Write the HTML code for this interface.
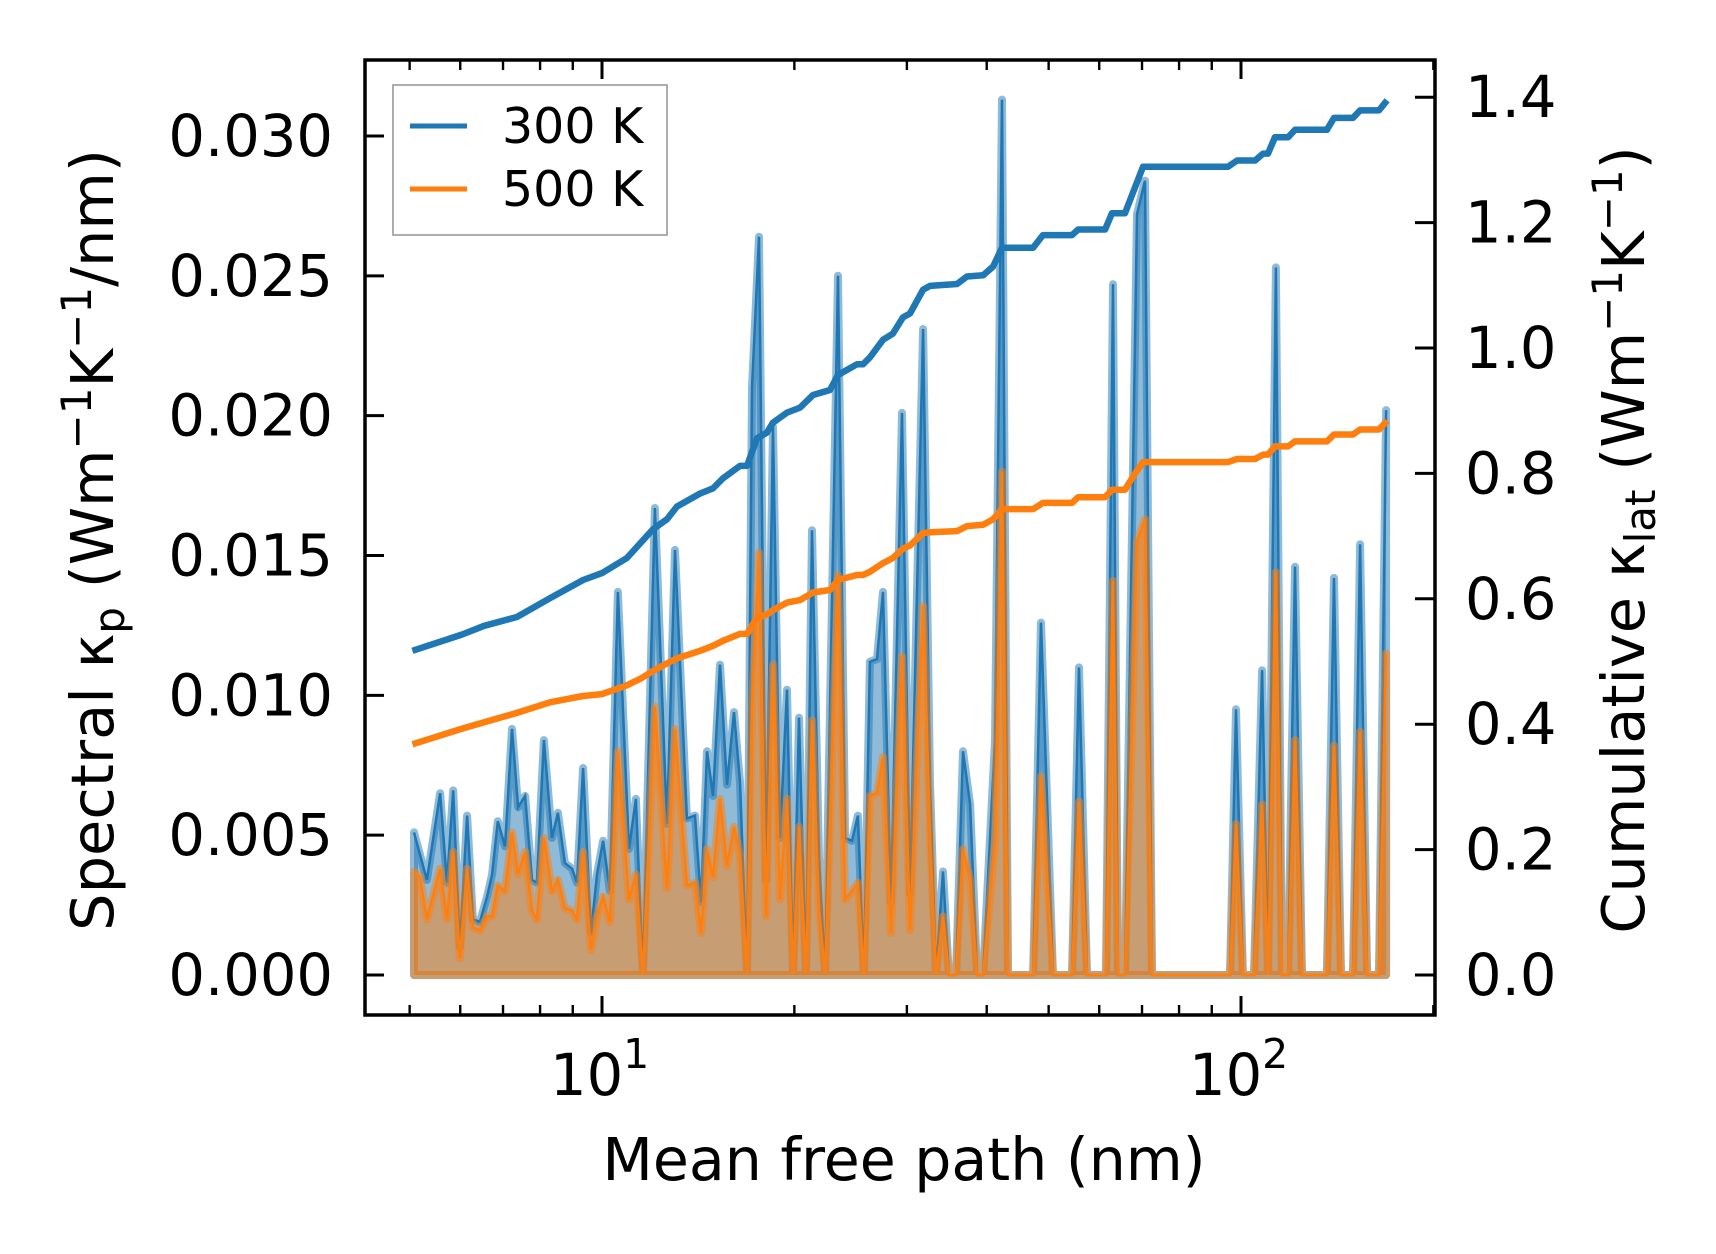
<!DOCTYPE html>
<html><head><meta charset="utf-8"><style>
html,body{margin:0;padding:0;background:#fff;}
svg{display:block;font-family:"DejaVu Sans","Liberation Sans",sans-serif;}
</style></head><body>
<svg id="chart" width="1716" height="1254" viewBox="0 0 1716 1254" xmlns="http://www.w3.org/2000/svg">
<rect width="1716" height="1254" fill="#fff"/>
<g id="plot"></g>
<g id="axes"></g>
<g id="legend">
  <rect x="393" y="85" width="274" height="150" fill="#fff" fill-opacity="0.8" stroke="#999" stroke-width="1.6"/>
  <line x1="410" y1="126" x2="467" y2="126" stroke="#1f77b4" stroke-width="5"/>
  <text x="502" y="143" font-size="49" fill="#000">300 K</text>
  <line x1="410" y1="189" x2="467" y2="189" stroke="#ff7f0e" stroke-width="5"/>
  <text x="502" y="206" font-size="49" fill="#000">500 K</text>
</g>
<text x="904" y="1180" font-size="58.5" text-anchor="middle">Mean free path (nm)</text>
<text transform="translate(113,540) rotate(-90)" font-size="59" text-anchor="middle">Spectral κ<tspan font-size="42" dy="11">p</tspan><tspan dy="-11"> (Wm</tspan><tspan font-size="42" dy="-22">−1</tspan><tspan dy="22">K</tspan><tspan font-size="42" dy="-22">−1</tspan><tspan dy="22">/nm)</tspan></text>
<text transform="translate(1644,540) rotate(-90)" font-size="59" text-anchor="middle">Cumulative κ<tspan font-size="42" dy="11">lat</tspan><tspan dy="-11"> (Wm</tspan><tspan font-size="42" dy="-22">−1</tspan><tspan dy="22">K</tspan><tspan font-size="42" dy="-22">−1</tspan><tspan dy="22">)</tspan></text>
</svg>
<script>
const mfp = [5.08,5.19,5.32,5.58,5.72,5.85,5.99,6.15,6.28,6.44,6.61,6.73,6.87,7.05,7.23,7.39,7.58,7.77,7.91,8.11,8.35,8.53,8.75,8.98,9.14,9.34,9.61,9.82,10.04,10.29,10.59,11.02,11.30,11.59,12.10,12.64,13.01,13.58,13.98,14.29,14.60,14.92,15.30,15.69,16.09,16.44,16.86,17.17,17.61,18.06,18.52,18.99,19.48,19.91,20.34,20.86,21.31,21.86,22.34,23.41,24.01,24.62,25.15,25.70,26.26,26.94,27.53,28.33,29.48,30.34,31.80,32.61,33.32,34.17,34.91,35.81,36.72,37.67,38.64,39.48,41.21,42.27,43.19,47.27,48.64,50.80,54.40,55.79,57.41,61.49,63.05,64.20,65.84,68.74,70.76,72.56,96.1,98.2,100.7,104.8,107.9,110.2,113.4,115.9,118.5,121.5,124.6,136.3,139.8,143.4,149.7,153.6,157.5,164.4,168.7];
const spec300 = [0.0051,0.0043,0.0034,0.0065,0.0033,0.0066,0.0010,0.0057,0.0020,0.0019,0.0028,0.0036,0.0055,0.0046,0.0088,0.0060,0.0064,0.0034,0.0033,0.0084,0.0049,0.0058,0.0040,0.0038,0.0033,0.0074,0.0015,0.0036,0.0048,0.0030,0.0137,0.0045,0.0063,0,0.0167,0.0054,0.0152,0.0056,0.0057,0.0026,0.0080,0.0064,0.0111,0.0068,0.0094,0.0069,0,0.0210,0.0264,0.0034,0.0196,0.0049,0.0102,0,0.0092,0,0.0159,0.0042,0,0.0250,0.0049,0.0048,0.0057,0,0.0112,0.0113,0.0137,0.0026,0.0201,0.0029,0.0231,0.0069,0,0.0037,0,0,0.0080,0.0061,0,0,0.0084,0.0313,0,0,0.0126,0,0,0.0110,0,0,0.0247,0,0,0.0272,0.0284,0,0,0.0095,0,0,0.0109,0,0.0253,0,0,0.0146,0,0,0.0142,0,0,0.0154,0,0,0.0202];
const spec500 = [0.0037,0.0035,0.0020,0.0038,0.0020,0.0044,0.0006,0.0038,0.0017,0.0016,0.0021,0.0021,0.0032,0.0030,0.0051,0.0036,0.0044,0.0023,0.0020,0.0049,0.0030,0.0034,0.0024,0.0023,0.0020,0.0044,0.0009,0.0021,0.0028,0.0019,0.0080,0.0027,0.0036,0,0.0096,0.0031,0.0088,0.0032,0.0033,0.0015,0.0045,0.0035,0.0063,0.0039,0.0053,0.0043,0,0.0096,0.0151,0.0021,0.0111,0.0027,0.0063,0,0.0053,0,0.0091,0.0024,0,0.0143,0.0027,0.0030,0.0033,0,0.0064,0.0065,0.0078,0.0015,0.0114,0.0016,0.0132,0.0050,0,0.0021,0,0,0.0045,0.0034,0,0,0.0048,0.0180,0,0,0.0071,0,0,0.0062,0,0,0.0141,0,0,0.0155,0.0163,0,0,0.0054,0,0,0.0061,0,0.0144,0,0,0.0084,0,0,0.0082,0,0,0.0087,0,0,0.0115];
const cumX = [5.05,6.04,6.54,7.36,8.29,9.34,10.0,10.94,11.51,12.02,12.64,13.10,14.24,14.92,15.46,16.44,16.86,17.48,18.12,18.52,19.48,20.42,21.39,22.74,23.41,25.06,25.61,26.26,27.53,28.53,29.58,30.34,31.80,32.61,35.94,37.26,39.48,40.93,42.27,47.27,48.98,54.40,55.6,61.27,62.82,65.84,67.76,70.25,95.4,98.6,105.2,108.3,110.2,113.0,118.5,121.5,136.3,139.8,149.7,153.6,164.4,169.3];
const cum300 = [0.517,0.543,0.557,0.571,0.601,0.630,0.641,0.665,0.690,0.711,0.727,0.747,0.768,0.776,0.792,0.812,0.812,0.856,0.865,0.881,0.897,0.905,0.925,0.933,0.957,0.974,0.974,0.985,1.013,1.023,1.049,1.055,1.093,1.099,1.102,1.114,1.116,1.130,1.160,1.160,1.180,1.180,1.189,1.189,1.215,1.215,1.248,1.289,1.289,1.299,1.299,1.310,1.310,1.336,1.336,1.348,1.348,1.367,1.367,1.379,1.379,1.395];
const cum500 = [0.368,0.393,0.403,0.418,0.435,0.445,0.448,0.462,0.473,0.485,0.497,0.505,0.517,0.525,0.533,0.544,0.544,0.570,0.575,0.582,0.594,0.598,0.610,0.614,0.630,0.638,0.638,0.643,0.657,0.665,0.680,0.685,0.705,0.706,0.708,0.716,0.718,0.727,0.743,0.743,0.753,0.753,0.762,0.762,0.774,0.774,0.795,0.818,0.818,0.823,0.823,0.830,0.830,0.843,0.843,0.851,0.851,0.862,0.862,0.870,0.870,0.884];
const leftTicks = [0,0.005,0.010,0.015,0.020,0.025,0.030];
const leftTickLabels = ["0.000","0.005","0.010","0.015","0.020","0.025","0.030"];
const rightTicks = [0,0.2,0.4,0.6,0.8,1.0,1.2,1.4];
const rightTickLabels = ["0.0","0.2","0.4","0.6","0.8","1.0","1.2","1.4"];
const xMajor = [10,100];
const xMajorExp = ["1","2"];
const xMinor = [5,6,7,8,9,20,30,40,50,60,70,80,90,200];

const L=365, R=1435, T=60, B=1015;
const NS='http://www.w3.org/2000/svg';
function xs(v){return 602 + 639*(Math.log10(v)-1);}
function yl(v){return 975 - v*27967;}
function yr(v){return 975 - v*627;}
function mk(tag, attrs, parent){const e=document.createElementNS(NS,tag);for(const k in attrs)e.setAttribute(k,attrs[k]);parent.appendChild(e);return e;}

const plot=document.getElementById('plot');
const axes=document.getElementById('axes');

function fillPath(xsArr, ys){
  let d='M'+xs(xsArr[0]).toFixed(1)+','+yl(0).toFixed(1);
  for(let i=0;i<xsArr.length;i++) d+=' L'+xs(xsArr[i]).toFixed(1)+','+yl(ys[i]).toFixed(1);
  d+=' L'+xs(xsArr[xsArr.length-1]).toFixed(1)+','+yl(0).toFixed(1)+' Z';
  return d;
}
function linePath(xsArr, ys, yf){
  let d='';
  for(let i=0;i<xsArr.length;i++) d+=(i?' L':'M')+xs(xsArr[i]).toFixed(1)+','+yf(ys[i]).toFixed(1);
  return d;
}
let e;
e=mk('path',{d:fillPath(mfp,spec300),fill:'#1f77b4','fill-opacity':0.5,stroke:'#1f77b4','stroke-opacity':0.5,'stroke-width':8,'stroke-linejoin':'round'},plot);


e=mk('path',{d:linePath(mfp,spec300,yl),fill:'none',stroke:'#1f77b4','stroke-width':2.5},plot);


e=mk('path',{d:fillPath(mfp,spec500),fill:'#ff7f0e','fill-opacity':0.5,stroke:'#ff7f0e','stroke-opacity':0.5,'stroke-width':8,'stroke-linejoin':'round'},plot);


e=mk('path',{d:linePath(mfp,spec500,yl),fill:'none',stroke:'#ff7f0e','stroke-width':2.5},plot);


e=mk('path',{d:linePath(cumX,cum300,yr),fill:'none',stroke:'#1f77b4','stroke-width':6.5,'stroke-linejoin':'round'},plot);


e=mk('path',{d:linePath(cumX,cum500,yr),fill:'none',stroke:'#ff7f0e','stroke-width':6.5,'stroke-linejoin':'round'},plot);



e=mk('rect',{x:L,y:T,width:R-L,height:B-T,fill:'none',stroke:'#000','stroke-width':3.5},axes);



leftTicks.forEach((v,i)=>{
  const y=yl(v);
  const t=mk('line',{x1:L,y1:y,x2:L+19,y2:y,stroke:'#000','stroke-width':3},axes);
  
  
  const lb=mk('text',{x:333,y:y+20,'font-size':57.5,'text-anchor':'end'},axes);
  lb.textContent=leftTickLabels[i];
  
  
});
rightTicks.forEach((v,i)=>{
  const y=yr(v);
  const t=mk('line',{x1:R-20,y1:y,x2:R,y2:y,stroke:'#000','stroke-width':3},axes);
  
  
  const lb=mk('text',{x:1465,y:y+20,'font-size':57.5,'text-anchor':'start'},axes);
  lb.textContent=rightTickLabels[i];
  
  
});
xMajor.forEach((v,i)=>{
  const x=xs(v);
  let t=mk('line',{x1:x,y1:B,x2:x,y2:B-19,stroke:'#000','stroke-width':3},axes);
  
  
  t=mk('line',{x1:x,y1:T,x2:x,y2:T+19,stroke:'#000','stroke-width':3},axes);
  
  
  const lb=mk('text',{x:x-52,y:1095,'font-size':57.5},axes);
  
  
  lb.appendChild(document.createTextNode('10'));
  const sp=mk('tspan',{'font-size':41,dy:-27},lb);
  sp.textContent=xMajorExp[i];
});
xMinor.forEach(v=>{
  const x=xs(v);
  if(x<L||x>R) return;
  let t=mk('line',{x1:x,y1:B,x2:x,y2:B-10,stroke:'#000','stroke-width':2.4},axes);
  
  
  t=mk('line',{x1:x,y1:T,x2:x,y2:T+10,stroke:'#000','stroke-width':2.4},axes);
  
  
});
</script>
</body></html>
